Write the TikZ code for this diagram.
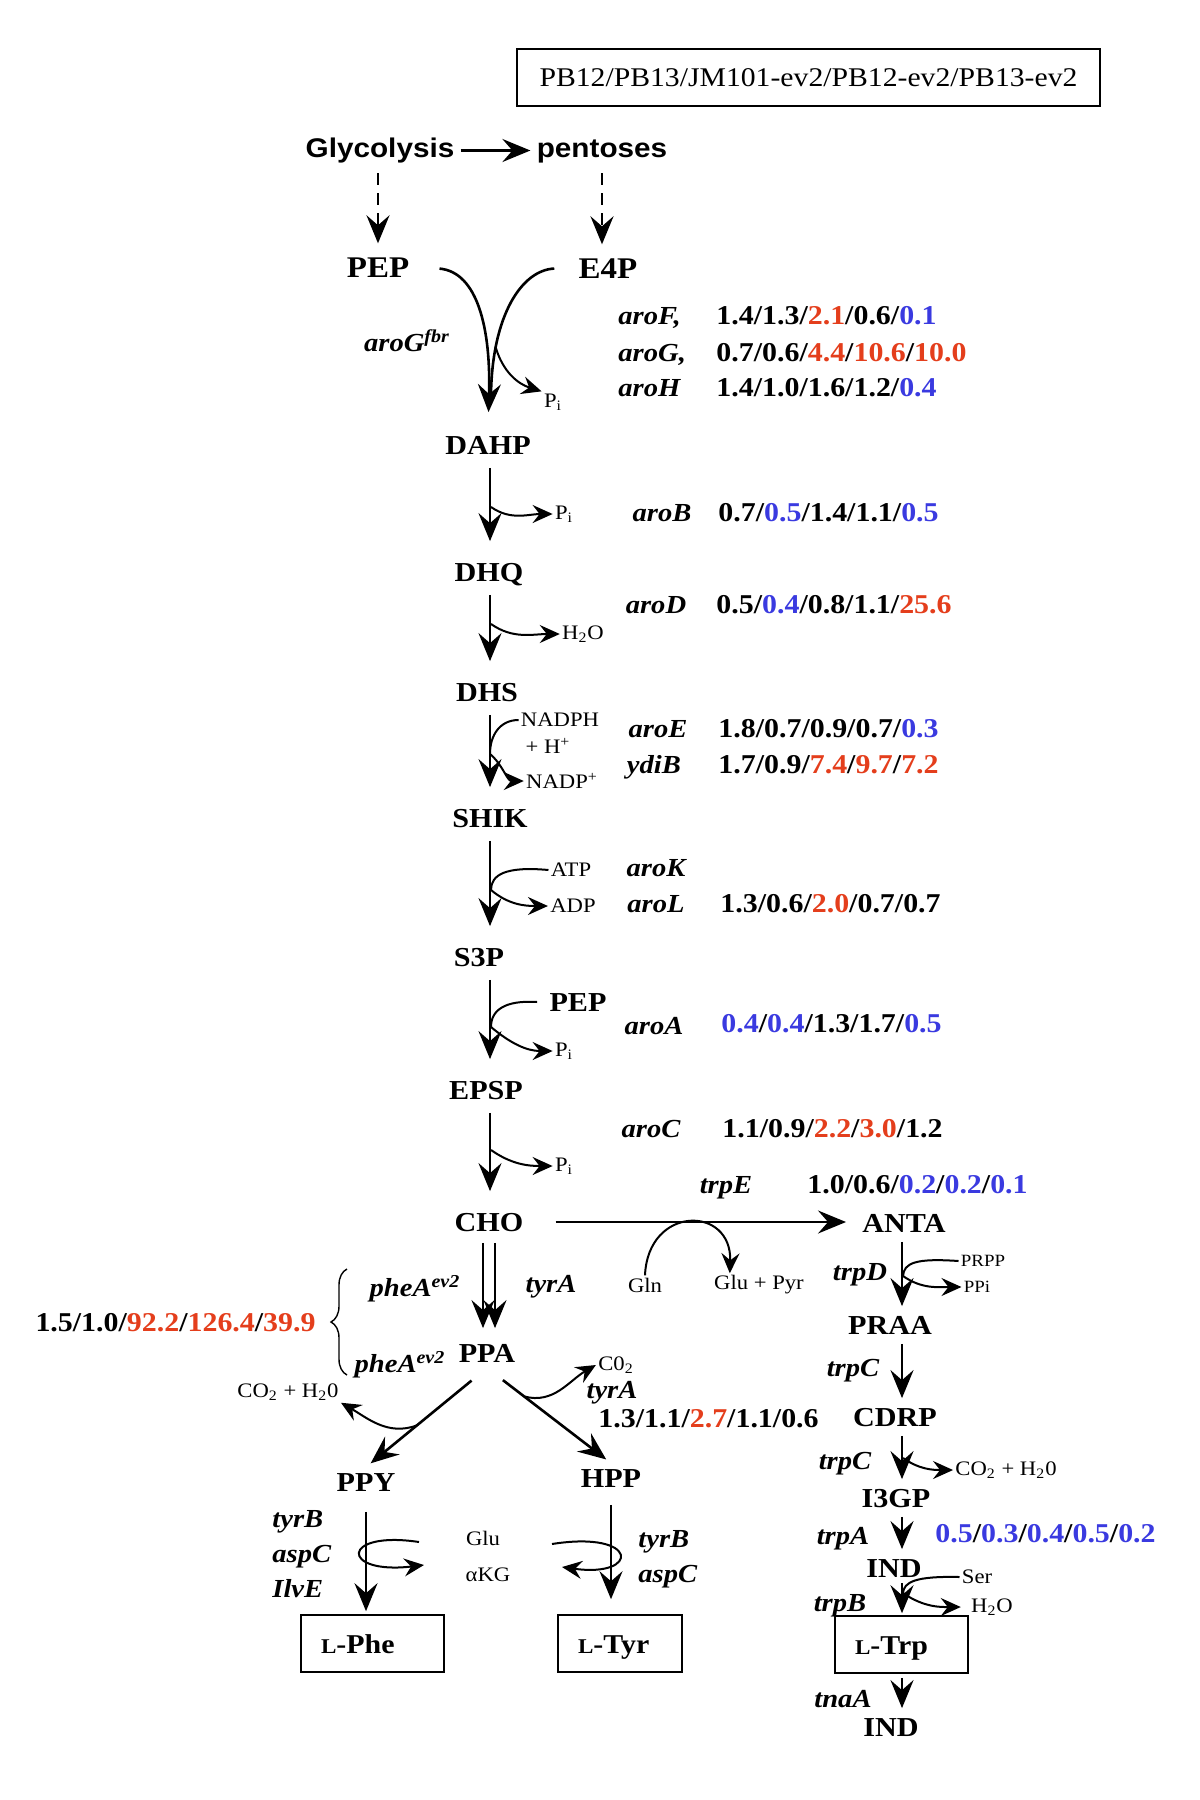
\documentclass[tikz,border=0pt]{standalone}
\usepackage{fontspec}
\setmainfont{Liberation Serif}[FakeStretch=1.1]
\setsansfont{Liberation Sans}[FakeStretch=1.1]
\usetikzlibrary{arrows.meta,decorations.pathreplacing}
\definecolor{upred}{RGB}{228,62,28}
\definecolor{dnblue}{RGB}{58,58,224}
\newcommand{\upv}[1]{\textcolor{upred}{#1}}
\newcommand{\dnv}[1]{\textcolor{dnblue}{#1}}
\newcommand{\lsc}{{\fontsize{10.5}{12}\selectfont L}}
\tikzset{
	met/.style={font=\fontsize{13.7}{16}\selectfont\bfseries, text height=9.5pt, text depth=0pt, inner xsep=6pt, inner ysep=2.5pt},
	big/.style={met, font=\fontsize{15}{18}\selectfont\bfseries, text height=10.3pt},
	src/.style={font=\sffamily\bfseries\fontsize{13.5}{16}\selectfont, text height=9.5pt, text depth=3pt, inner sep=2pt},
	gene/.style={font=\fontsize{13}{15}\selectfont\bfseries\itshape, text height=9.5pt, text depth=0pt, inner sep=1pt},
	vals/.style={font=\fontsize{13.6}{16}\selectfont\bfseries, text height=9.5pt, text depth=0pt, inner sep=0pt, anchor=west},
	small/.style={font=\fontsize{10.3}{12}\selectfont, inner sep=1pt},
	tiny/.style={font=\fontsize{8.6}{10}\selectfont, inner sep=1pt},
	product/.style={draw, line width=0.8pt, font=\fontsize{13.6}{16}\selectfont\bfseries, text height=9.5pt, text depth=0pt, minimum height=28.5pt, inner xsep=10pt, align=left},
	main/.style={line width=1.3pt, -{Stealth[length=14pt,width=11.5pt,inset=5pt]}, shorten <=4pt, shorten >=8pt},
	trpstep/.style={main, shorten <=2pt, shorten >=2pt},
	dashflow/.style={main, dash pattern=on 6pt off 4pt},
	side/.style={line width=1pt, -{Stealth[length=10pt,width=9pt,inset=3.5pt]}},
	inflow/.style={line width=1pt}
}

\begin{document}
\begin{tikzpicture}[x=0.5pt,y=-0.5pt]
	\useasboundingbox (0,0) rectangle (1200,1800);
	\coordinate (col) at (490,0);
	\coordinate (tcol) at (902,0);

	\node[draw, line width=0.8pt, minimum width=291.5pt, minimum height=28.5pt, font=\fontsize{13.5}{16}\selectfont] (strains) at (808.5,77.5) {PB12/PB13/JM101-ev2/PB12-ev2/PB13-ev2};

	\node[src, anchor=base] (glyc) at (380,157) {Glycolysis};
	\node[src, anchor=base] (pent) at (602,157) {pentoses};
	\node[big] (pep) at (378,267) {PEP};
	\node[big] (e4p) at (608,268) {E4P};
	\node[met] (dahp) at (488,445) {DAHP};
	\node[met] (dhq) at (489,572) {DHQ};
	\node[met] (dhs) at (487,692) {DHS};
	\node[met] (shik) at (490,818) {SHIK};
	\node[met] (s3p) at (479,957) {S3P};
	\node[met] (epsp) at (486,1090) {EPSP};
	\node[met] (cho) at (489,1222) {CHO};
	\node[met] (ppa) at (487,1353) {PPA};
	\node[met] (ppy) at (366,1482) {PPY};
	\node[met] (hpp) at (611,1478) {HPP};
	\node[met] (anta) at (904,1223) {ANTA};
	\node[met] (praa) at (890,1325) {PRAA};
	\node[met] (cdrp) at (895,1417) {CDRP};
	\node[met] (i3gp) at (896,1498) {I3GP};
	\node[met] (ind) at (894,1568) {IND};
	\node[met] (ind2) at (891,1727) {IND};
	\node[product, text width=51.5pt] (phe) at (372.5,1643.5) {\lsc-Phe};
	\node[product, text width=42pt] (tyr) at (620,1643.5) {\lsc-Tyr};
	\node[product, text width=46.5pt] (trp) at (901.5,1644.5) {\lsc-Trp};

	\node[small] (pi0) at (553,402) {P\textsubscript{i}};
	\node[small] (pi1) at (564,514) {P\textsubscript{i}};
	\node[small] (h2oa) at (583,634) {H\textsubscript{2}O};
	\node[small] (nadph) at (560,720) {NADPH};
	\node[small] (hplus) at (548,746) {+ H\textsuperscript{+}};
	\node[small] (nadpp) at (562,781) {NADP\textsuperscript{+}};
	\node[small] (atp) at (571,870) {ATP};
	\node[small] (adp) at (573,906) {ADP};
	\node[met] (pepb) at (578,1002) {PEP};
	\node[small] (pi2) at (564,1051) {P\textsubscript{i}};
	\node[small] (pi3) at (564,1166) {P\textsubscript{i}};
	\node[small] (gln) at (645,1285) {Gln};
	\node[small] (glupyr) at (759,1285) {Glu + Pyr};
	\node[tiny] (prpp) at (983,1261) {PRPP};
	\node[tiny] (ppi) at (977,1287) {PPi};
	\node[small] (co2a) at (288,1392) {CO\textsubscript{2} + H\textsubscript{2}0};
	\node[small] (co2b) at (616,1365) {C0\textsubscript{2}};
	\node[small] (co2c) at (1006,1470) {CO\textsubscript{2} + H\textsubscript{2}0};
	\node[small] (glu) at (483,1538) {Glu};
	\node[small] (akg) at (488,1575) {αKG};
	\node[small] (ser) at (977,1577) {Ser};
	\node[small] (h2ob) at (992,1607) {H\textsubscript{2}O};

	\node[gene] (g-arog) at (407,342) {aroG\textsuperscript{fbr}};
	\node[gene, anchor=west] (g-aroF) at (616,315) {aroF,};
	\node[gene, anchor=west] (g-aroGb) at (616,352) {aroG,};
	\node[gene, anchor=west] (g-aroH) at (616,387) {aroH};
	\node[gene] (g-aroB) at (662,512) {aroB};
	\node[gene] (g-aroD) at (656,604) {aroD};
	\node[gene] (g-aroE) at (658,728) {aroE};
	\node[gene] (g-ydiB) at (654,764) {ydiB};
	\node[gene] (g-aroK) at (656,867) {aroK};
	\node[gene] (g-aroL) at (656,903) {aroL};
	\node[gene] (g-aroA) at (654,1025) {aroA};
	\node[gene] (g-aroC) at (651,1128) {aroC};
	\node[gene] (g-trpE) at (726,1184) {trpE};
	\node[gene] (g-pheA) at (415,1287) {pheA\textsuperscript{ev2}};
	\node[gene] (g-tyrA) at (551,1283) {tyrA};
	\node[gene] (g-pheAb) at (400,1363) {pheA\textsuperscript{ev2}};
	\node[gene] (g-tyrAb) at (612,1389) {tyrA};
	\node[gene, anchor=west] (g-tyrB) at (270,1518) {tyrB};
	\node[gene, anchor=west] (g-aspC) at (270,1553) {aspC};
	\node[gene, anchor=west] (g-ilvE) at (270,1588) {IlvE};
	\node[gene, anchor=west] (g-tyrBb) at (636,1538) {tyrB};
	\node[gene, anchor=west] (g-aspCb) at (636,1573) {aspC};
	\node[gene] (g-trpD) at (860,1271) {trpD};
	\node[gene] (g-trpC) at (853,1367) {trpC};
	\node[gene] (g-trpCb) at (845,1460) {trpC};
	\node[gene] (g-trpA) at (843,1535) {trpA};
	\node[gene] (g-trpB) at (840,1602) {trpB};
	\node[gene] (g-tnaA) at (843,1698) {tnaA};

	\node[vals] (v-aroF) at (716,315) {1.4/1.3/\upv{2.1}/0.6/\dnv{0.1}};
	\node[vals] (v-aroG) at (716,352) {0.7/0.6/\upv{4.4}/\upv{10.6}/\upv{10.0}};
	\node[vals] (v-aroH) at (716,387) {1.4/1.0/1.6/1.2/\dnv{0.4}};
	\node[vals] (v-aroB) at (718,512) {0.7/\dnv{0.5}/1.4/1.1/\dnv{0.5}};
	\node[vals] (v-aroD) at (716,604) {0.5/\dnv{0.4}/0.8/1.1/\upv{25.6}};
	\node[vals] (v-aroE) at (718,728) {1.8/0.7/0.9/0.7/\dnv{0.3}};
	\node[vals] (v-ydiB) at (718,764) {1.7/0.9/\upv{7.4}/\upv{9.7}/\upv{7.2}};
	\node[vals] (v-aroL) at (720,903) {1.3/0.6/\upv{2.0}/0.7/0.7};
	\node[vals] (v-aroA) at (721,1023) {\dnv{0.4}/\dnv{0.4}/1.3/1.7/\dnv{0.5}};
	\node[vals] (v-aroC) at (722,1128) {1.1/0.9/\upv{2.2}/\upv{3.0}/1.2};
	\node[vals] (v-trpE) at (807,1184) {1.0/0.6/\dnv{0.2}/\dnv{0.2}/\dnv{0.1}};
	\node[vals, anchor=east] (v-pheA) at (316,1322) {1.5/1.0/\upv{92.2}/\upv{126.4}/\upv{39.9}};
	\node[vals] (v-tyrA) at (598,1418) {1.3/1.1/\upv{2.7}/1.1/0.6};
	\node[vals] (v-trpA) at (935,1533) {\dnv{0.5}/\dnv{0.3}/\dnv{0.4}/\dnv{0.5}/\dnv{0.2}};

	\draw[main, shorten <=1pt, shorten >=1pt] (glyc) -- (pent);
	\draw[dashflow, shorten <=3pt, shorten >=4pt] (pep.north |- glyc.south) -- (pep.north);
	\draw[dashflow, shorten <=3pt, shorten >=4pt] (pent.south) -- (pent.south |- e4p.north);

	\draw[main, shorten <=9pt, shorten >=9pt] (pep.east) .. controls (478,272) and (491,330) .. (dahp.north);
	\coordinate (m0) at (491,395);
	\draw[inflow, line width=1.3pt, shorten <=6pt] (e4p.west) .. controls (522,270) and (492,315) .. coordinate[pos=0.78] (pbr) (m0);
	\draw[side] (pbr) .. controls (503,372) and (518,384) .. (pi0.north west);

	\draw[main] (dahp.south -| col) -- (dhq.north -| col);
	\coordinate (b1) at (491,507);
	\draw[side] (b1) to[out=-35,in=180] (pi1.west);

	\draw[main] (dhq.south -| col) -- (dhs.north -| col);
	\coordinate (b2) at (491,624);
	\draw[side] (b2) to[out=-35,in=180] (h2oa.west);

	\draw[main] (dhs.south -| col) -- (shik.north -| col);
	\coordinate (b3) at (490,754);
	\draw[inflow] (nadph.west) .. controls (500,720) and (490,735) .. (b3);
	\draw[side] (b3) to[out=-40,in=180] (nadpp.west);

	\draw[main] (shik.south -| col) -- (s3p.north -| col);
	\coordinate (b4) at (491,890);
	\draw[inflow] (atp.west) .. controls (505,866) and (491,875) .. (b4);
	\draw[side] (b4) to[out=-40,in=180] (adp.west);

	\draw[main] (s3p.south -| col) -- (epsp.north -| col);
	\coordinate (b5) at (491,1027);
	\draw[inflow] (pepb.west) .. controls (505,1000) and (491,1010) .. (b5);
	\draw[side] (b5) to[out=-40,in=180] (pi2.west);

	\draw[main] (epsp.south -| col) -- (cho.north -| col);
	\coordinate (b6) at (491,1150);
	\draw[side] (b6) to[out=-35,in=180] (pi3.west);

	\draw[main, shorten <=3pt, shorten >=5pt] ([xshift=-3pt]cho.south) -- ([xshift=-3pt]cho.south |- ppa.north);
	\draw[main, shorten <=3pt, shorten >=5pt] ([xshift=3pt]cho.south) -- ([xshift=3pt]cho.south |- ppa.north);

	\coordinate (br1) at (347,1375);
	\coordinate (br2) at (347,1269);
	\draw[decorate, decoration={brace, amplitude=8pt}, line width=0.7pt] (br1) -- (br2);

	\draw[main, shorten <=10pt, shorten >=3pt] (ppa.south) -- coordinate[pos=0.58] (b11) (ppy.north);
	\draw[side] (b11) to[out=200,in=-30] (co2a.south east);
	\draw[main, shorten <=10pt, shorten >=3pt] (ppa.south) -- coordinate[pos=0.3] (b10) (hpp.north);
	\draw[side] (b10) to[out=-15,in=210] (co2b.west);

	\draw[main, shorten <=7.5pt, shorten >=1.5pt] (ppy.south) -- (ppy.south |- phe.north);
	\coordinate (glin) at (419,1542);
	\coordinate (glout) at (424,1565);
	\draw[side] (glin) .. controls (340,1530) and (340,1575) .. (glout);
	\draw[main, shorten <=6pt, shorten >=7.5pt] (hpp.south) -- (hpp.south |- tyr.north);
	\coordinate (tyin) at (552,1544);
	\coordinate (tyout) at (562,1567);
	\draw[side] (tyin) .. controls (640,1530) and (640,1578) .. (tyout);

	\draw[main, shorten <=10pt, shorten >=2pt] (cho.east) -- (cho.east -| anta.west);
	\draw[side] (gln.north) .. controls (648,1205) and (732,1205) .. ([xshift=9pt]glupyr.north west);

	\draw[trpstep] (anta.south -| tcol) -- (praa.north -| tcol);
	\coordinate (b7) at (903,1276);
	\draw[inflow] (prpp.west) .. controls (915,1258) and (904,1263) .. (b7);
	\draw[side] (b7) to[out=-35,in=180] (ppi.west);
	\draw[trpstep] (praa.south -| tcol) -- (cdrp.north -| tcol);
	\draw[trpstep] (cdrp.south -| tcol) -- (i3gp.north -| tcol);
	\coordinate (b8) at (903,1458);
	\draw[side] (b8) to[out=-35,in=180] (co2c.west);
	\draw[trpstep] (i3gp.south -| tcol) -- (ind.north -| tcol);
	\draw[main, shorten <=0pt, shorten >=1pt] (ind.south -| tcol) -- (trp.north -| tcol);
	\coordinate (b9) at (903,1593);
	\draw[inflow] (ser.west) .. controls (915,1576) and (904,1582) .. (b9);
	\draw[side, shorten >=4pt] (b9) to[out=-35,in=180] (h2ob.west);
	\draw[trpstep] (trp.south -| tcol) -- (ind2.north -| tcol);
\end{tikzpicture}
\end{document}
